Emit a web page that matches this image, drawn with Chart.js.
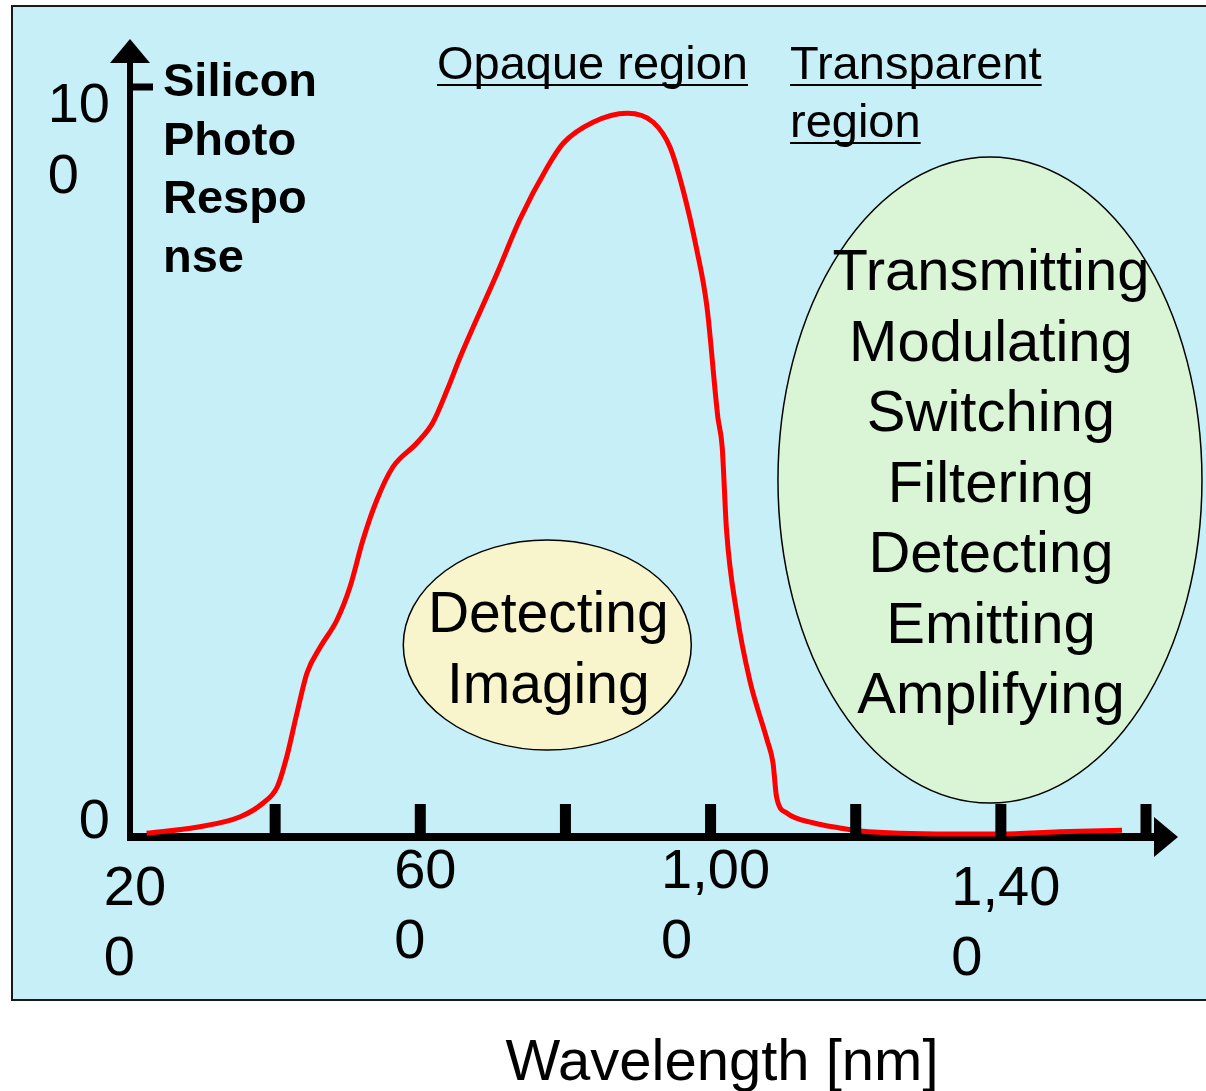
<!DOCTYPE html>
<html>
<head>
<meta charset="utf-8">
<title>Silicon photo response</title>
<script src="https://cdn.jsdelivr.net/npm/chart.js@4.4.1/dist/chart.umd.min.js"></script>
<style>
  html, body { margin: 0; padding: 0; background: #fff; }
  canvas { display: block; }
</style>
</head>
<body>
<canvas id="chart" width="1206" height="1091"></canvas>
<script>
// wavelength samples (nm) and silicon photo response (%)
const wavelengths = [
  223, 292, 352, 383, 403, 416, 430, 444, 462, 485,
  503, 521, 540, 562, 595, 617, 637, 655, 706, 737,
  775, 797, 838, 885, 921, 944, 962, 981, 995, 1010,
  1016, 1022, 1036, 1054, 1078, 1086, 1091, 1105, 1141, 1178,
  1206, 1330, 1399, 1481, 1567,
];
const response = [
  0.5, 1.3, 2.7, 4.5, 6.7, 10.7, 16.5, 21.9, 25.3, 28.9,
  33.3, 39.6, 44.9, 49.3, 52.5, 55.2, 59.6, 64.0, 75.2, 82.3,
  89.3, 92.5, 95.3, 96.5, 95.3, 92.0, 86.3, 78.3, 70.7, 56.0,
  52.0, 40.9, 29.9, 20.9, 12.9, 9.9, 5.3, 3.2, 1.9, 1.2,
  0.8, 0.4, 0.4, 0.7, 0.9,
];

// axis ticks
const xTickMarks = [400, 600, 800, 1000, 1200, 1400, 1600];
const xLabelValues = [200, 600, 1000, 1400];
const xLabelLines = [["20", "0"], ["60", "0"], ["1,00", "0"], ["1,40", "0"]];
const yTickMarks = [100];
const yLabelValues = [100, 0];
const yLabelLines = [["10", "0"], ["0"]];

// text blocks
const yTitleLines = ["Silicon", "Photo", "Respo", "nse"];
const opaqueTitle = ["Opaque region"];
const transparentTitle = ["Transparent", "region"];
const opaqueUses = ["Detecting", "Imaging"];
const transparentUses = ["Transmitting", "Modulating", "Switching", "Filtering", "Detecting", "Emitting", "Amplifying"];
const xTitle = "Wavelength [nm]";

const FONT = "'Liberation Sans', Arial, sans-serif";

function drawLines(ctx, lines, x, firstBaseline, step, align, underline) {
  ctx.textAlign = align;
  ctx.textBaseline = "alphabetic";
  lines.forEach((t, i) => {
    const y = firstBaseline + i * step;
    ctx.fillText(t, x, y);
    if (underline) {
      const w = ctx.measureText(t).width;
      const left = align === "center" ? x - w / 2 : x;
      ctx.fillRect(left, y + 5, w, 2);
    }
  });
}

function ellipse(ctx, cx, cy, rx, ry, fill) {
  ctx.beginPath();
  ctx.ellipse(cx, cy, rx, ry, 0, 0, Math.PI * 2);
  ctx.fillStyle = fill;
  ctx.fill();
  ctx.lineWidth = 1.5;
  ctx.strokeStyle = "#000";
  ctx.stroke();
}

const slideDecor = {
  id: "slideDecor",
  beforeDraw(chart) {
    const ctx = chart.ctx;
    ctx.save();
    ctx.fillStyle = "#ffffff";
    ctx.fillRect(0, 0, chart.width, chart.height);
    ctx.fillStyle = "#c6eff7";
    ctx.fillRect(12, 6, chart.width, 994);
    ctx.strokeStyle = "#1a1a1a";
    ctx.lineWidth = 2;
    ctx.strokeRect(12, 6, chart.width + 10, 994);
    ctx.restore();
  },
  beforeDatasetsDraw(chart) {
    // axis lines with arrow heads
    const ctx = chart.ctx;
    const xs = chart.scales.x, ys = chart.scales.y;
    const x0 = xs.getPixelForValue(200), xEnd = xs.getPixelForValue(1600);
    const y0 = ys.getPixelForValue(0), yTop = ys.getPixelForValue(100);
    ctx.save();
    ctx.fillStyle = "#000";
    ctx.fillRect(x0 - 3, yTop - 26, 6, y0 + 4 - (yTop - 26));
    ctx.beginPath();
    ctx.moveTo(x0, yTop - 48);
    ctx.lineTo(x0 - 20, yTop - 24);
    ctx.lineTo(x0 + 20, yTop - 24);
    ctx.closePath();
    ctx.fill();
    ctx.fillRect(x0 - 3, y0 - 4, xEnd + 10 - (x0 - 3), 8);
    ctx.beginPath();
    ctx.moveTo(xEnd + 32, y0);
    ctx.lineTo(xEnd + 8, y0 - 20);
    ctx.lineTo(xEnd + 8, y0 + 20);
    ctx.closePath();
    ctx.fill();
    ctx.restore();
  },
  afterDatasetsDraw(chart) {
    const ctx = chart.ctx;
    const xs = chart.scales.x, ys = chart.scales.y;
    const x0 = xs.getPixelForValue(200);
    const y0 = ys.getPixelForValue(0);
    ctx.save();
    ctx.fillStyle = "#000";

    // tick marks standing on the axes
    xTickMarks.forEach(v => {
      const p = xs.getPixelForValue(v);
      ctx.fillRect(p - 5.5, y0 - 33, 11, 33);
    });
    yTickMarks.forEach(v => {
      const p = ys.getPixelForValue(v);
      ctx.fillRect(x0, p - 3.5, 23, 7);
    });

    // wrapped tick labels, lines left-aligned inside each block
    ctx.font = "56px " + FONT;
    const xDrop = { 200: 17, 1400: 17 };
    xLabelValues.forEach((v, i) => {
      const lines = xLabelLines[i];
      const w = Math.max(...lines.map(t => ctx.measureText(t).width));
      const left = xs.getPixelForValue(v) + 5 - w / 2;
      drawLines(ctx, lines, left, y0 + 51 + (xDrop[v] || 0), 70, "left");
    });
    const yShift = { 100: 35, 0: 1 };
    yLabelValues.forEach((v, i) => {
      const lines = yLabelLines[i];
      const w = Math.max(...lines.map(t => ctx.measureText(t).width));
      drawLines(ctx, lines, x0 - 20 - w, ys.getPixelForValue(v) + yShift[v], 71, "left");
    });

    // y axis title
    ctx.font = "bold 47px " + FONT;
    drawLines(ctx, yTitleLines, 163, 96, 58.5, "left");

    // region headings
    ctx.font = "47px " + FONT;
    drawLines(ctx, opaqueTitle, 437, 79, 58, "left", true);
    drawLines(ctx, transparentTitle, 790, 79, 58, "left", true);

    // application bubbles
    const sx = xs.getPixelForValue(775), sy = ys.getPixelForValue(25.6);
    ellipse(ctx, sx, sy, 144, 105, "#f8f4cc");
    const bx = xs.getPixelForValue(1385), by = ys.getPixelForValue(47.6);
    ellipse(ctx, bx, by, 212, 323, "#d9f5d6");

    ctx.fillStyle = "#000";
    ctx.font = "57px " + FONT;
    drawLines(ctx, opaqueUses, sx + 1, sy - 13, 71, "center");
    ctx.font = "58px " + FONT;
    drawLines(ctx, transparentUses, bx + 1, by - 190, 70.5, "center");

    // x axis title below the panel
    ctx.font = "58px " + FONT;
    drawLines(ctx, [xTitle], 722, 1080, 0, "center");
    ctx.restore();
  },
};

const config = {
  type: "line",
  data: {
    datasets: [
      {
        label: "Silicon photo response",
        data: wavelengths.map((w, i) => ({ x: w, y: response[i] })),
        borderColor: "#ff0000",
        borderWidth: 5,
        pointRadius: 0,
        cubicInterpolationMode: "monotone",
        fill: false,
        clip: false,
      },
    ],
  },
  options: {
    responsive: false,
    devicePixelRatio: 1,
    animation: false,
    layout: { padding: { left: 130, right: 60, top: 87, bottom: 254 } },
    scales: {
      x: { type: "linear", min: 200, max: 1600, display: false },
      y: { type: "linear", min: 0, max: 100, display: false },
    },
    plugins: {
      legend: { display: false },
      tooltip: { enabled: false },
    },
  },
  plugins: [slideDecor],
};

const mychart = new Chart(document.getElementById("chart"), config);
</script>
</body>
</html>
